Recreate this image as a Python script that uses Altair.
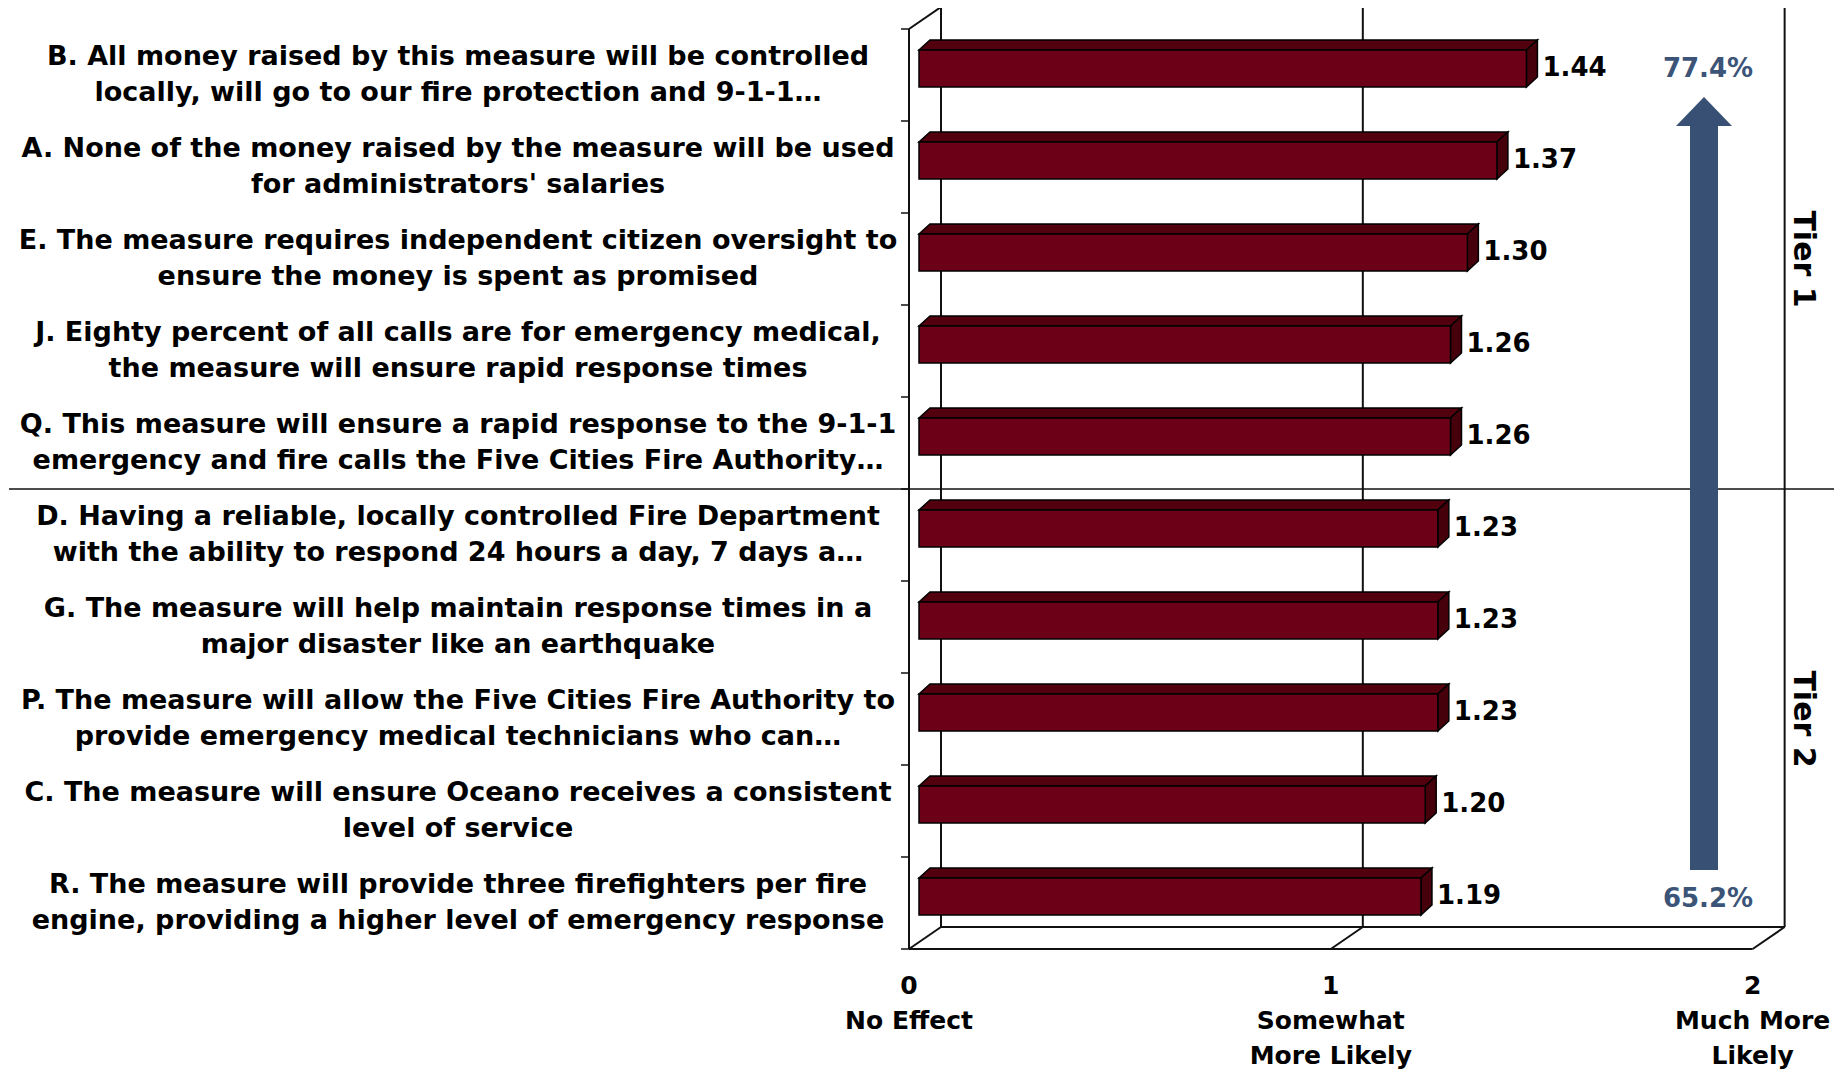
import altair as alt
import pandas as pd

# ---------------- data ----------------
label_line1 = [
    "B. All money raised by this measure will be controlled",
    "A. None of the money raised by the measure will be used",
    "E. The measure requires independent citizen oversight to",
    "J. Eighty percent of all calls are for emergency medical,",
    "Q. This measure will ensure a rapid response to the 9-1-1",
    "D. Having a reliable, locally controlled Fire Department",
    "G. The measure will help maintain response times in a",
    "P. The measure will allow the Five Cities Fire Authority to",
    "C. The measure will ensure Oceano receives a consistent",
    "R. The measure will provide three firefighters per fire",
]
label_line2 = [
    "locally, will go to our fire protection and 9-1-1\u2026",
    "for administrators' salaries",
    "ensure the money is spent as promised",
    "the measure will ensure rapid response times",
    "emergency and fire calls the Five Cities Fire Authority\u2026",
    "with the ability to respond 24 hours a day, 7 days a\u2026",
    "major disaster like an earthquake",
    "provide emergency medical technicians who can\u2026",
    "level of service",
    "engine, providing a higher level of emergency response",
]
scores = [1.44, 1.37, 1.30, 1.26, 1.26, 1.23, 1.23, 1.23, 1.20, 1.19]
tier_names = ["Tier 1", "Tier 2"]
tier_rows = [2.5, 7.5]
pct_text = ["77.4%", "65.2%"]
x_tick_values = [0, 1, 2]
x_tick_text = ["0\nNo Effect", "1\nSomewhat\nMore  Likely", "2\nMuch More\nLikely"]

# ---------------- layout helpers ----------------
FONT = "DejaVu Sans"
W, H = 928, 937
X_MAX = 2.2
PPU = W / X_MAX          # pixels per score unit
ROW_PX = 92.0            # pixels per row
Y_MIN = -17 / ROW_PX


def px(p):
    return p / PPU


def rw(p):
    return p / ROW_PX


BAR_X0 = px(10)
BAR_T, BAR_B = 0.228, 0.630
DEP_X, DEP_Y = px(11), -rw(10)
WALL_X, WALL_Y = px(32), -rw(22)
N = len(scores)
CAT_LH = 36.5

xs = alt.Scale(domain=[0, X_MAX], nice=False, zero=False)
ys = alt.Scale(domain=[Y_MIN, N], nice=False, zero=False, reverse=True)


def X(f):
    return alt.X(f, type="quantitative", scale=xs, axis=None)


def Y(f):
    return alt.Y(f, type="quantitative", scale=ys, axis=None)


# ---------------- frame (3-D box) ----------------
segs = []


def seg(x, y, x2, y2):
    segs.append(dict(x=x, y=y, x2=x2, y2=y2))


seg(0, 0, 0, N)                                  # front axis
seg(0, 0, WALL_X, WALL_Y)                        # top-left diagonal
seg(WALL_X, WALL_Y, WALL_X, N + WALL_Y)          # back wall left
seg(WALL_X, WALL_Y, 2 + WALL_X, WALL_Y)          # back wall top
seg(2 + WALL_X, WALL_Y, 2 + WALL_X, N + WALL_Y)  # back wall right
seg(1 + WALL_X, WALL_Y, 1 + WALL_X, N + WALL_Y)  # gridline 1
seg(WALL_X, N + WALL_Y, 2 + WALL_X, N + WALL_Y)  # floor back edge
seg(0, N, 2, N)                                  # floor front edge
for k in x_tick_values:
    seg(k, N, k + WALL_X, N + WALL_Y)            # floor diagonals

frame = alt.Chart(pd.DataFrame(segs)).mark_rule(color="#111111", strokeWidth=2).encode(
    x=X("x"), y=Y("y"), x2="x2", y2="y2"
)

ticks_df = pd.DataFrame({"x": [-px(8)] * (N + 1), "x2": [0] * (N + 1), "y": list(range(N + 1))})
ticks = alt.Chart(ticks_df).mark_rule(color="#111111", strokeWidth=1.5).encode(
    x=X("x"), x2="x2", y=Y("y")
)

divider = alt.Chart(pd.DataFrame({"x": [-px(900)], "x2": [px(925)], "y": [5]})).mark_rule(
    color="#111111", strokeWidth=1.5
).encode(x=X("x"), x2="x2", y=Y("y"))

# x "axis" labels under the floor
xlab_df = pd.DataFrame({"t": x_tick_text, "x": x_tick_values, "y": [N + rw(25)] * 3})
xlab = alt.Chart(xlab_df).mark_text(
    align="center", baseline="top", lineBreak="\n", lineHeight=35,
    font=FONT, fontWeight="bold", fontSize=25, color="black"
).encode(x=X("x"), y=Y("y"), text="t:N")

# ---------------- arrow ----------------
AX = px(1704 - 909)
shaft = alt.Chart(pd.DataFrame({"x": [AX - px(14)], "x2": [AX + px(14)], "y": [1.0], "y2": [9.141]})).mark_rect(
    color="#385073"
).encode(x=X("x"), x2="x2", y=Y("y"), y2="y2")
head_df = pd.DataFrame({
    "x": [AX - px(28), AX, AX + px(28)],
    "y": [1.054, 1.054, 1.054],
    "y2": [1.054, 0.739, 1.054],
})
head = alt.Chart(head_df).mark_area(color="#385073", orient="vertical").encode(
    x=X("x"), y=Y("y"), y2="y2"
)

# ---------------- 3-D bars ----------------
front_rows, top_rows, side_rows = [], [], []
for i, v in enumerate(scores):
    x0, x1 = BAR_X0, BAR_X0 + v
    yt, yb = i + BAR_T, i + BAR_B
    front_rows.append(dict(x=x0, x2=x1, y=yt, y2=yb, score=v, lx=x1 + DEP_X + px(5), ly=(yt + yb) / 2))
    for xx, a, b in [(x0, yt, yt), (x0 + DEP_X, yt, yt + DEP_Y), (x1, yt, yt + DEP_Y), (x1 + DEP_X, yt + DEP_Y, yt + DEP_Y)]:
        top_rows.append(dict(id=i, x=xx, y=a, y2=b))
    for yy, a, b in [(yt + DEP_Y, x1 + DEP_X, x1 + DEP_X), (yt, x1, x1 + DEP_X), (yb + DEP_Y, x1, x1 + DEP_X), (yb, x1, x1)]:
        side_rows.append(dict(id=i, y=yy, x=a, x2=b))

front_df = pd.DataFrame(front_rows)
top = alt.Chart(pd.DataFrame(top_rows)).mark_area(
    orient="vertical", fill="#52000E", stroke="black", strokeWidth=1.5
).encode(x=X("x"), y=Y("y"), y2="y2", detail="id:N")
side = alt.Chart(pd.DataFrame(side_rows)).mark_area(
    orient="horizontal", fill="#46000C", stroke="black", strokeWidth=1.5
).encode(y=Y("y"), x=X("x"), x2="x2", detail="id:N")
front = alt.Chart(front_df).mark_rect(fill="#6C0017", stroke="black", strokeWidth=1.5).encode(
    x=X("x"), x2="x2", y=Y("y"), y2="y2"
)
values_txt = alt.Chart(front_df).mark_text(
    align="left", baseline="middle", font=FONT, fontWeight="bold", fontSize=26, color="black"
).encode(x=X("lx"), y=Y("ly"), text=alt.Text("score:Q", format=".2f"))

# ---------------- texts ----------------
cat_df = pd.DataFrame({
    "label": [a + "\n" + b for a, b in zip(label_line1, label_line2)],
    "y": [i + 0.5 for i in range(N)],
    "x": [-px(451)] * N,
})
cat_txt = alt.Chart(cat_df).mark_text(
    align="center", baseline="middle", lineBreak="\n", lineHeight=CAT_LH, dy=-CAT_LH / 2,
    font=FONT, fontWeight="bold", fontSize=27, color="black"
).encode(x=X("x"), y=Y("y"), text="label:N")

pct_df = pd.DataFrame({"t": pct_text, "x": [AX + px(4)] * 2, "y": [0.44, 9.46]})
pct_txt = alt.Chart(pct_df).mark_text(
    align="center", baseline="middle", font=FONT, fontWeight="bold", fontSize=26, color="#3B5478"
).encode(x=X("x"), y=Y("y"), text="t:N")

tier_df = pd.DataFrame({"t": tier_names, "x": [px(1803 - 909)] * 2, "y": tier_rows})
tier_txt = alt.Chart(tier_df).mark_text(
    align="center", baseline="middle", angle=90, font=FONT, fontWeight="bold", fontSize=30, color="black"
).encode(x=X("x"), y=Y("y"), text="t:N")

chart = alt.layer(
    frame, divider, ticks, shaft, head, top, side, front, values_txt, pct_txt, tier_txt, cat_txt, xlab
).properties(
    width=W, height=H,
    padding={"left": 901, "top": 4, "right": 0, "bottom": 121},
    autosize=alt.AutoSizeParams(type="none"),
    background="white",
).configure_view(strokeWidth=0)

chart.save("out.html", embed_options={"renderer": "svg", "actions": False})
